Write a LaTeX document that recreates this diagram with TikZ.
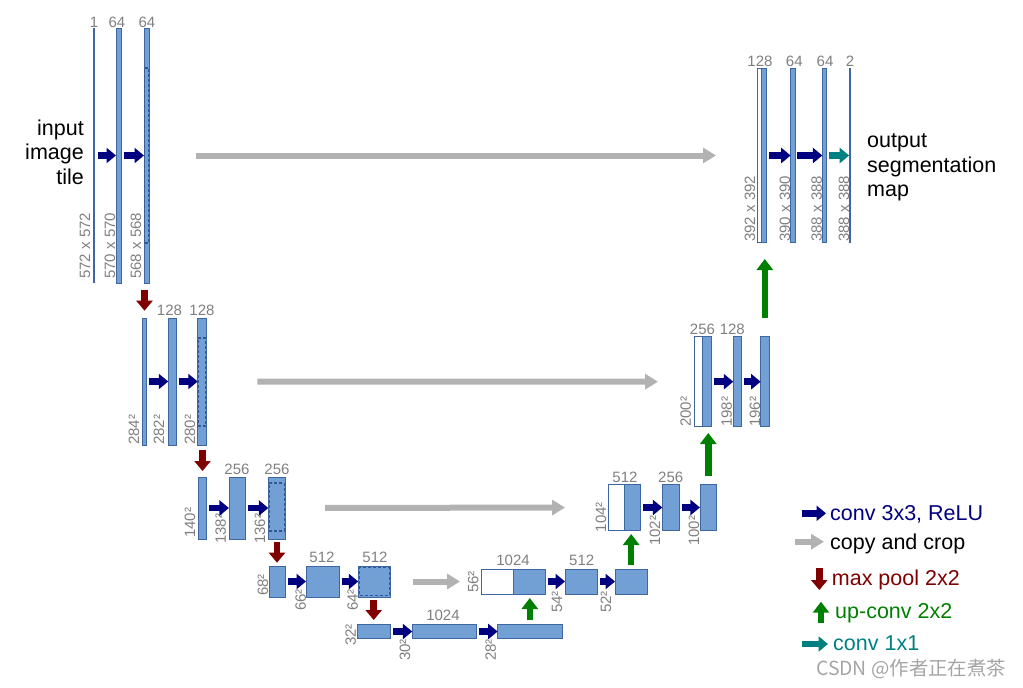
\documentclass[tikz,border=0pt]{standalone}
\usepackage{fontspec}
\setmainfont{Liberation Sans}
\newfontfamily\cjkfont{Noto Sans CJK SC}
\usetikzlibrary{arrows.meta}
\definecolor{fmblue}{RGB}{114,159,212}
\definecolor{fmborder}{RGB}{62,102,160}
\definecolor{dashblue}{RGB}{48,88,150}
\definecolor{convc}{RGB}{0,0,128}
\definecolor{copyc}{RGB}{178,178,178}
\definecolor{poolc}{RGB}{128,0,0}
\definecolor{upc}{RGB}{0,128,0}
\definecolor{onec}{RGB}{0,128,128}
\definecolor{labgray}{RGB}{128,128,128}
\definecolor{wmgray}{RGB}{165,165,165}
\begin{document}
\begin{tikzpicture}[x=1pt,y=-1pt,
  sz/.style 2 args={minimum width=#1pt, minimum height=#2pt},
  fm/.style={rectangle, draw=fmborder, fill=fmblue, line width=0.9pt, inner sep=0pt, outer sep=0pt},
  fmw/.style={fm, fill=white},
  thinmap/.style={rectangle, fill=fmborder, draw=none, inner sep=0pt, outer sep=0pt},
  dashbox/.style={rectangle, draw=dashblue, dash pattern=on 3pt off 2pt, line width=1.2pt, inner sep=0pt, outer sep=0pt},
  conv/.style={draw=convc, line width=6.5pt, -{Triangle[length=9.5pt,width=15pt]}, shorten <=2.5pt},
  onebyone/.style={conv, draw=onec},
  copyarr/.style={draw=copyc, line width=6pt, -{Triangle[length=13pt,width=15pt]}},
  pool/.style={draw=poolc, line width=6.5pt, -{Triangle[length=10pt,width=16pt]}},
  upconv/.style={draw=upc, line width=6.5pt, -{Triangle[length=11pt,width=16pt]}},
  dim/.style={text=labgray, font=\fontsize{15}{16}\selectfont, inner sep=0pt},
  rot/.style={dim, rotate=90, anchor=west},
  big/.style={font=\fontsize{21.5}{24.5}\selectfont, inner sep=0pt},
  legtext/.style={big, anchor=base west}
]
\useasboundingbox (0,0) rectangle (1023,688);

% ---------- level 1 (contracting) ----------
\node[thinmap, sz={2}{255}] (in1) at (94,155.5) {};
\node[fm, sz={5}{255}] (e1a) at (118.5,155.5) {};
\node[fm, sz={5}{255}] (e1b) at (146.5,155.5) {};
\node[dashbox, sz={4}{175}] (e1bd) at (146.5,155.5) {};
\node[dim] (t1a) at (94,22) {1};
\node[dim] (t1b) at (117,22) {64};
\node[dim] (t1c) at (147,22) {64};
\node[rot] (s1a) at (85,279) {572 x 572};
\node[rot] (s1b) at (110,279) {570 x 570};
\node[rot] (s1c) at (136,279) {568 x 568};
\draw[conv] (in1) -- (e1a);
\draw[conv] (e1a) -- (e1b);
\node[big, align=right, anchor=base east] (inp) at (84,184) {input\\image\\tile};

% ---------- level 2 ----------
\node[fm, sz={4.5}{127}] (e2a) at (144.5,381.5) {};
\node[fm, sz={8.5}{127}] (e2b) at (172.5,381.5) {};
\node[fm, sz={8.5}{127}] (e2c) at (202,381.5) {};
\node[dashbox, sz={7.5}{88}] (e2cd) at (202,382) {};
\node[dim] (t2b) at (169.5,310) {128};
\node[dim] (t2c) at (202,310) {128};
\node[rot] (s2a) at (134,445) {284²};
\node[rot] (s2b) at (159,445) {282²};
\node[rot] (s2c) at (190,445) {280²};
\draw[conv] (e2a) -- (e2b);
\draw[conv] (e2b) -- (e2c);

% ---------- level 3 ----------
\node[fm, sz={8.5}{62}] (e3a) at (202.5,508) {};
\node[fm, sz={16.7}{62}] (e3b) at (237.3,508) {};
\node[fm, sz={16.7}{62}] (e3c) at (276.7,508) {};
\node[dashbox, sz={15}{48}] (e3cd) at (276.7,507) {};
\node[dim] (t3b) at (237,469) {256};
\node[dim] (t3c) at (277,469) {256};
\node[rot] (s3a) at (190,538) {140²};
\node[rot] (s3b) at (220.7,544) {138²};
\node[rot] (s3c) at (260,544) {136²};
\draw[conv] (e3a) -- (e3b);
\draw[conv] (e3b) -- (e3c);

% ---------- level 4 ----------
\node[fm, sz={16}{31}] (e4a) at (277,581.5) {};
\node[fm, sz={33}{31}] (e4b) at (322.5,581.5) {};
\node[fm, sz={32.4}{31}] (e4c) at (374.5,581.5) {};
\node[dashbox, sz={29.5}{27.5}] (e4cd) at (374.5,581.5) {};
\node[dim] (t4b) at (322,557) {512};
\node[dim] (t4c) at (375,557) {512};
\node[rot] (s4a) at (263,596) {68²};
\node[rot] (s4b) at (300.7,611) {66²};
\node[rot] (s4c) at (352.7,611) {64²};
\draw[conv] (e4a) -- (e4b);
\draw[conv] (e4b) -- (e4c);

% ---------- level 5 (bottom) ----------
\node[fm, sz={32.7}{14}] (b5a) at (373.7,631.5) {};
\node[fm, sz={64.4}{14}] (b5b) at (444.5,631.5) {};
\node[fm, sz={64.3}{14}] (b5c) at (529.8,631.5) {};
\node[dim] (t5b) at (443,615) {1024};
\node[rot] (s5a) at (350.7,646) {32²};
\node[rot] (s5b) at (405,661) {30²};
\node[rot] (s5c) at (490.7,661) {28²};
\draw[conv] (b5a) -- (b5b);
\draw[conv] (b5b) -- (b5c);

% ---------- up level 4 ----------
\node[fmw, sz={32.3}{25}] (d4w) at (497.2,581.5) {};
\node[fm, sz={32.4}{25}] (d4b) at (529.5,581.5) {};
\node[fm, sz={32.3}{25}] (d4c) at (581.2,581.5) {};
\node[fm, sz={32.3}{25}] (d4d) at (631.2,581.5) {};
\node[dim] (u4b) at (513,560) {1024};
\node[dim] (u4c) at (581.7,560) {512};
\node[rot] (r4a) at (473.3,593) {56²};
\node[rot] (r4b) at (557,613) {54²};
\node[rot] (r4c) at (606,613) {52²};
\draw[conv] (d4b) -- (d4c);
\draw[conv] (d4c) -- (d4d);

% ---------- up level 3 ----------
\node[fmw, sz={15.7}{46.4}] (d3w) at (616.2,507.5) {};
\node[fm, sz={16.7}{46.4}] (d3b) at (632.3,507.5) {};
\node[fm, sz={16.7}{46.4}] (d3c) at (670.7,507.5) {};
\node[fm, sz={16.7}{46.4}] (d3d) at (708.3,507.5) {};
\node[dim] (u3b) at (625,477) {512};
\node[dim] (u3c) at (670.7,477) {256};
\node[rot] (r3a) at (601,532.5) {104²};
\node[rot] (r3b) at (655,546) {102²};
\node[rot] (r3c) at (694,546) {100²};
\draw[conv] (d3b) -- (d3c);
\draw[conv] (d3c) -- (d3d);

% ---------- up level 2 ----------
\node[fmw, sz={8.4}{90}] (d2w) at (698.5,381.7) {};
\node[fm, sz={9}{90}] (d2b) at (707.2,381.7) {};
\node[fm, sz={8.4}{90}] (d2c) at (737.5,381.7) {};
\node[fm, sz={8.3}{90}] (d2d) at (764.8,381.7) {};
\node[dim] (u2b) at (702.5,329) {256};
\node[dim] (u2c) at (732.3,329) {128};
\node[rot] (r2a) at (685.7,427) {200²};
\node[rot] (r2b) at (726.7,427) {198²};
\node[rot] (r2c) at (755,427) {196²};
\draw[conv] (d2b) -- (d2c);
\draw[conv] (d2c) -- (d2d);

% ---------- up level 1 ----------
\node[fmw, sz={4}{174.4}] (d1w) at (759.7,155.5) {};
\node[fm, sz={5}{174.4}] (d1b) at (764.2,155.5) {};
\node[fm, sz={4.3}{174.4}] (d1c) at (792.8,155.5) {};
\node[fm, sz={3.7}{174.4}] (d1d) at (824.2,155.5) {};
\node[thinmap, sz={1.6}{174.4}] (out) at (850,155.5) {};
\node[dim] (u1b) at (760,61) {128};
\node[dim] (u1c) at (794.3,61) {64};
\node[dim] (u1d) at (825,61) {64};
\node[dim] (u1e) at (850,61) {2};
\node[rot] (r1a) at (750,242) {392 x 392};
\node[rot] (r1b) at (785,242) {390 x 390};
\node[rot] (r1c) at (816.7,242) {388 x 388};
\node[rot] (r1d) at (844,242) {388 x 388};
\draw[conv] (d1b) -- (d1c);
\draw[conv] (d1c) -- (d1d);
\draw[onebyone] (d1d) -- (out);
\node[big, align=left, anchor=base west] (outp) at (867,196.7) {output\\segmentation\\map};

% ---------- copy and crop ----------
\draw[copyarr, shorten <=47pt, shorten >=41.7pt] (e1b.east) -- (d1w.west);
\draw[copyarr, shorten <=51pt, shorten >=36.3pt] (e2c.east) -- (d2w.west);
\draw[copyarr, shorten <=40pt, shorten >=43.3pt] (e3c.east) -- (d3w.west);
\draw[copyarr, shorten <=22.3pt, shorten >=21pt] (e4c.east) -- (d4w.west);

% ---------- max pool ----------
\draw[pool, shorten <=7pt, shorten >=7.3pt] (e2a.north |- e1b.south) -- (e2a.north);
\draw[pool, shorten <=5pt, shorten >=6pt] (e3a.north |- e2c.south) -- (e3a.north);
\draw[pool, shorten <=2.7pt, shorten >=3.3pt] (e4a.north |- e3c.south) -- (e4a.north);
\draw[pool, shorten <=3pt, shorten >=4.5pt] (b5a.north |- e4c.south) -- (b5a.north);

% ---------- up-conv ----------
\draw[upconv, shorten <=4.5pt, shorten >=4pt] (b5c.north) -- (b5c.north |- d4b.south);
\draw[upconv, shorten <=4pt, shorten >=3.3pt] (d4d.north) -- (d4d.north |- d3b.south);
\draw[upconv, shorten <=8.3pt, shorten >=6.3pt] (d3d.north) -- (d3d.north |- d2b.south);
\draw[upconv, shorten <=18.7pt, shorten >=16.3pt] (d2d.north) -- (d2d.north |- d1b.south);

% ---------- legend ----------
\coordinate (lc1) at (801.7,513.3);
\coordinate (lc2) at (795,541.7);
\coordinate (lc3) at (819.3,568);
\coordinate (lc4) at (821,623.3);
\coordinate (lc5) at (801.7,644);
\node[legtext, text=convc] (lt1) at (830,520.7) {conv 3x3, ReLU};
\node[legtext, text=black] (lt2) at (830,549.3) {copy and crop};
\node[legtext, text=poolc] (lt3) at (831.7,585.7) {max pool 2x2};
\node[legtext, text=upc] (lt4) at (835,618.3) {up-conv 2x2};
\node[legtext, text=onec] (lt5) at (833,650) {conv 1x1};
\draw[conv, shorten <=0pt, shorten >=4pt] (lc1) -- (lc1 -| lt1.west);
\draw[copyarr, shorten >=6pt] (lc2) -- (lc2 -| lt2.west);
\draw[pool] (lc3) -- (819.3,590);
\draw[upconv] (lc4) -- (821,601.7);
\draw[onebyone, shorten <=0pt, shorten >=5pt] (lc5) -- (lc5 -| lt5.west);
\node[anchor=base west, text=wmgray, font=\cjkfont\fontsize{19.4}{21}\selectfont, inner sep=0pt] (wm) at (816,675) {CSDN @作者正在煮茶};
\end{tikzpicture}
\end{document}
